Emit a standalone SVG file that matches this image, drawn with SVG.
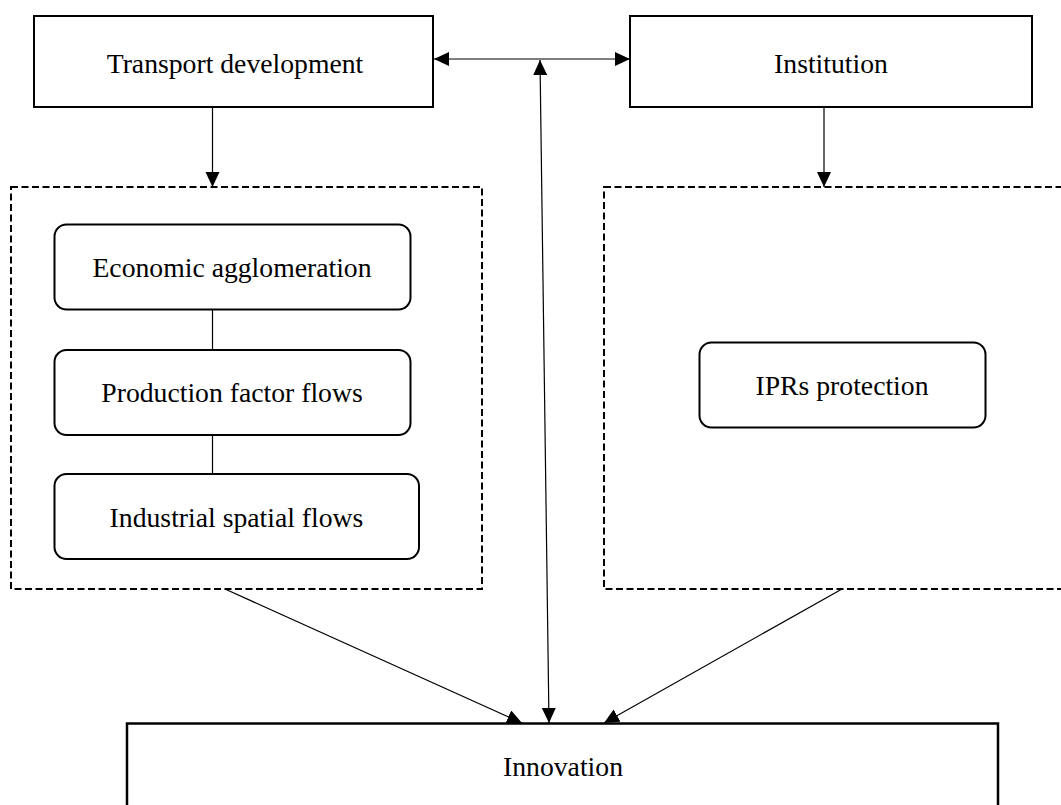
<svg xmlns="http://www.w3.org/2000/svg" width="1061" height="805" viewBox="0 0 1061 805">
<style>
.box{fill:#fff;stroke:#000;stroke-width:2}
.rbox{fill:#fff;stroke:#000;stroke-width:2}
.dash{fill:none;stroke:#000;stroke-width:2;stroke-dasharray:7 3.5}
.lbl{font-family:"Liberation Serif","Times New Roman",serif;font-size:27.7px;fill:#000;text-anchor:middle}
.con{fill:none;stroke:#000;stroke-width:1.2}
</style>
<defs>
<marker id="ah" markerUnits="userSpaceOnUse" markerWidth="16" markerHeight="15" refX="15" refY="7" orient="auto-start-reverse" viewBox="0 0 16 15">
<path d="M0,0 L15,7 L0,14 z" fill="#000"/>
</marker>
</defs>
<rect width="1061" height="805" fill="#fff"/>
<g id="group-left">
<rect class="dash" x="11" y="187" width="471" height="402"/>
</g>
<g id="group-right">
<rect class="dash" x="604" y="187" width="470" height="402"/>
</g>
<g id="connectors">
<line class="con" x1="434" y1="59" x2="630" y2="59" marker-start="url(#ah)" marker-end="url(#ah)"/>
<line class="con" x1="549" y1="723" x2="540" y2="60" marker-start="url(#ah)" marker-end="url(#ah)"/>
<line class="con" x1="212.5" y1="108" x2="212.5" y2="187" marker-end="url(#ah)"/>
<line class="con" x1="824" y1="108" x2="824" y2="187" marker-end="url(#ah)"/>
<line class="con" x1="212.5" y1="309" x2="212.5" y2="350"/>
<line class="con" x1="212.5" y1="435" x2="212.5" y2="474"/>
<line class="con" x1="225" y1="589" x2="522" y2="723" marker-end="url(#ah)"/>
<line class="con" x1="842" y1="589" x2="604" y2="723" marker-end="url(#ah)"/>
</g>
<g id="transport">
<rect class="box" x="34" y="16" width="399" height="91"/>
<text class="lbl" x="235" y="73">Transport development</text>
</g>
<g id="institution">
<rect class="box" x="630" y="16" width="402" height="91"/>
<text class="lbl" x="831" y="73">Institution</text>
</g>
<g id="economic">
<rect class="rbox" x="54.5" y="224.5" width="356" height="85" rx="12"/>
<text class="lbl" x="232" y="277">Economic agglomeration</text>
</g>
<g id="production">
<rect class="rbox" x="54.5" y="350" width="356" height="85" rx="12"/>
<text class="lbl" x="232" y="402">Production factor flows</text>
</g>
<g id="industrial">
<rect class="rbox" x="54.5" y="474" width="364.5" height="85" rx="12"/>
<text class="lbl" x="236.5" y="527">Industrial spatial flows</text>
</g>
<g id="iprs">
<rect class="rbox" x="699.5" y="342.5" width="286" height="85" rx="12"/>
<text class="lbl" x="842" y="395">IPRs protection</text>
</g>
<g id="innovation">
<path d="M127,810 L127,723.5 L998,723.5 L998,810" fill="#fff" stroke="#000" stroke-width="2.5"/>
<text class="lbl" x="563" y="776">Innovation</text>
</g>
</svg>
